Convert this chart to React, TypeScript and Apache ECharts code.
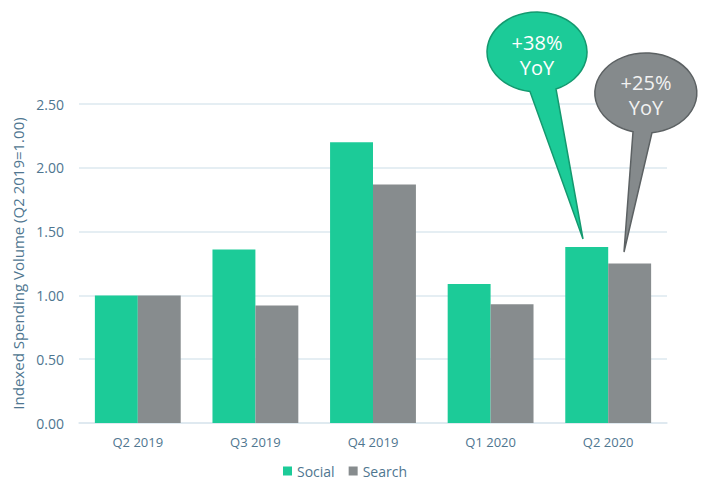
import React, { useEffect, useRef } from "react";
import * as echarts from "echarts";

const categories = ["Q2 2019", "Q3 2019", "Q4 2019", "Q1 2020", "Q2 2020"];
const socialValues = [1.0, 1.36, 2.2, 1.09, 1.38];
const searchValues = [1.0, 0.92, 1.87, 0.93, 1.25];
const seriesNames = ["Social", "Search"];
const calloutSocial = ["+38%", "YoY"];
const calloutSearch = ["+25%", "YoY"];

const FONT = "'Open Sans', 'Noto Sans', sans-serif";
const LABEL = "#4f7690";

echarts.graphic.registerShape(
  "bubbleA",
  echarts.graphic.extendPath("M 530 91.6 A 50 40 0 1 1 556 89 L 583 239 Z", {}) as any
);
echarts.graphic.registerShape(
  "bubbleB",
  echarts.graphic.extendPath("M 633 131.7 A 51 40 0 1 1 652 132.7 L 624 252 Z", {}) as any
);

export default function App() {
  const ref = useRef<HTMLDivElement>(null);
  useEffect(() => {
    if (!ref.current) return;
    const chart = echarts.init(ref.current, undefined, { renderer: "svg" });
    const txt = (x: number, y: number, t: string, fill: string) => ({
      type: "text",
      x,
      y,
      z: 101,
      style: {
        text: t,
        fill,
        font: `20px ${FONT}`,
        textAlign: "center",
        textVerticalAlign: "middle",
      },
    });
    chart.setOption({
      animation: false,
      textStyle: { fontFamily: FONT },
      grid: { left: 79, right: 35, top: 104, bottom: 58 },
      legend: {
        data: seriesNames,
        top: 464,
        left: 283,
        padding: 0,
        icon: "rect",
        itemWidth: 9,
        itemHeight: 9,
        itemGap: 14,
        textStyle: { color: LABEL, fontSize: 14, fontFamily: FONT },
      },
      xAxis: {
        type: "category",
        data: categories,
        axisLine: { lineStyle: { color: "#dde8ef", width: 1.5 } },
        axisTick: { show: false },
        axisLabel: { color: LABEL, fontSize: 13, margin: 12, fontFamily: FONT },
      },
      yAxis: {
        type: "value",
        min: 0,
        max: 2.5,
        interval: 0.5,
        name: "Indexed Spending Volume (Q2 2019=1.00)",
        nameLocation: "middle",
        nameGap: 47,
        nameTextStyle: { color: LABEL, fontSize: 15, fontFamily: FONT },
        axisLabel: {
          color: LABEL,
          fontSize: 14,
          margin: 15,
          fontFamily: FONT,
          formatter: (v: number) => v.toFixed(2),
        },
        splitLine: { lineStyle: { color: "#dde8ef", width: 1.5 } },
      },
      series: [
        {
          name: seriesNames[0],
          type: "bar",
          data: socialValues,
          itemStyle: { color: "#1ccb98" },
          barGap: "0%",
          barCategoryGap: "27%",
        },
        {
          name: seriesNames[1],
          type: "bar",
          data: searchValues,
          itemStyle: { color: "#878c8e" },
          barGap: "0%",
          barCategoryGap: "27%",
        },
      ],
      graphic: [
        {
          type: "bubbleA",
          x: 0,
          y: 0,
          z: 100,
          style: { fill: "#1ccb98", stroke: "#14996f", lineWidth: 1.5 },
        },
        txt(537, 42, calloutSocial[0], "#ffffff"),
        txt(537, 67, calloutSocial[1], "#ffffff"),
        {
          type: "bubbleB",
          x: 0,
          y: 0,
          z: 100,
          style: { fill: "#858a8c", stroke: "#5c6163", lineWidth: 1.5 },
        },
        txt(646, 82, calloutSearch[0], "#f2f2f2"),
        txt(646, 107, calloutSearch[1], "#f2f2f2"),
      ],
    });
    return () => chart.dispose();
  }, []);
  return (
    <div
      ref={ref}
      style={{ width: 702, height: 481, position: "absolute", left: 0, top: 0 }}
    />
  );
}
